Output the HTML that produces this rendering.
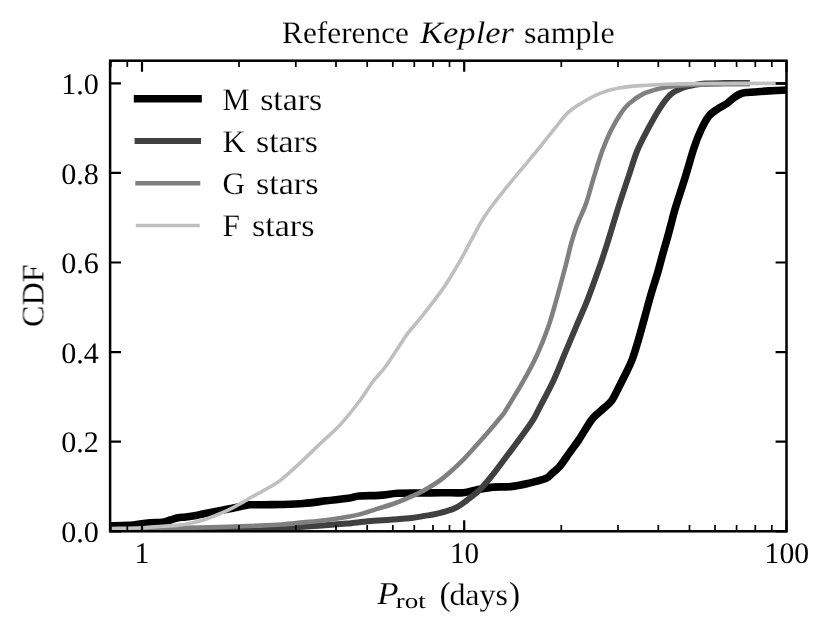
<!DOCTYPE html><html><head><meta charset="utf-8"><style>html,body{margin:0;padding:0;background:#fff}svg{display:block}text{text-rendering:geometricPrecision;font-family:"Liberation Serif",serif;fill:#000}.t text,text.t{stroke:#fff;stroke-width:0.16px}</style></head><body>
<svg width="831" height="633" viewBox="0 0 831 633">
<rect width="100%" height="100%" fill="#fff"/>
<defs><clipPath id="c"><rect x="110.1" y="60.7" width="676.4" height="470.6"/></clipPath></defs>
<g clip-path="url(#c)" fill="none" stroke-linejoin="round" stroke-linecap="butt">
<path d="M108.0,525.8 C111.3,525.7 122.2,525.8 128.1,525.4 C134.0,525.0 139.7,524.0 143.5,523.5 C147.3,523.0 148.0,522.9 151.2,522.7 C154.4,522.5 159.6,522.8 162.8,522.3 C166.0,521.8 167.9,520.8 170.5,520.0 C173.1,519.2 175.6,518.2 178.2,517.7 C180.8,517.2 182.7,517.3 185.9,516.9 C189.1,516.5 194.4,515.7 197.4,515.2 C200.4,514.7 199.0,514.7 204.1,513.7 C209.2,512.7 220.6,510.5 228.1,509.0 C235.6,507.5 247.7,505.0 249.2,504.8 C250.7,504.6 259.6,504.8 265.0,504.7 C270.4,504.6 275.3,504.7 281.7,504.5 C288.1,504.3 295.9,504.1 303.3,503.5 C310.7,502.9 318.8,501.7 326.2,500.8 C333.6,499.9 342.5,499.1 348.0,498.3 C353.5,497.5 354.1,496.5 359.3,496.0 C364.5,495.5 372.7,495.8 379.1,495.4 C385.5,494.9 391.1,493.7 397.7,493.3 C404.3,492.9 411.6,493.1 418.9,493.0 C426.2,492.9 434.3,492.8 441.7,492.7 C449.1,492.6 457.5,493.2 463.3,492.7 C469.1,492.2 471.2,490.8 476.3,489.9 C481.4,489.0 487.8,487.7 493.6,487.1 C499.4,486.6 505.2,487.2 511.0,486.6 C516.8,486.0 522.5,484.7 528.3,483.4 C534.1,482.1 541.6,480.3 545.6,478.6 C549.6,476.9 549.7,475.4 552.0,473.4 C554.3,471.4 556.7,469.9 559.5,466.6 C562.3,463.3 565.8,458.0 568.9,453.6 C572.0,449.2 575.2,445.2 578.4,440.5 C581.6,435.8 585.4,429.1 587.9,425.3 C590.4,421.5 590.7,420.5 593.2,417.8 C595.7,415.1 599.9,411.8 603.0,408.9 C606.1,406.0 609.1,404.1 611.6,400.7 C614.1,397.3 616.1,392.5 618.2,388.4 C620.4,384.3 622.2,380.7 624.5,376.0 C626.8,371.3 629.8,365.7 632.0,360.0 C634.2,354.3 635.8,348.5 637.9,341.6 C640.0,334.7 642.2,326.2 644.4,318.4 C646.5,310.6 648.6,302.5 650.8,295.0 C653.0,287.5 655.3,280.6 657.4,273.6 C659.5,266.6 661.3,259.1 663.1,252.8 C664.9,246.5 666.6,240.7 668.0,235.6 C669.4,230.5 670.4,226.6 671.6,222.0 C672.8,217.4 673.1,215.5 675.4,207.9 C677.7,200.3 682.3,186.6 685.4,176.6 C688.5,166.6 691.3,155.9 693.9,148.1 C696.5,140.2 698.7,134.8 701.2,129.5 C703.7,124.2 706.1,119.6 708.7,116.2 C711.4,112.8 714.1,111.4 717.1,109.3 C720.1,107.2 724.2,105.5 727.0,103.5 C729.8,101.5 731.7,99.2 734.0,97.6 C736.3,95.9 738.9,94.4 740.9,93.6 C742.9,92.8 743.8,92.9 746.0,92.6 C748.2,92.3 750.2,92.3 754.0,92.0 C757.8,91.7 762.9,91.2 768.6,90.9 C774.3,90.6 784.8,90.2 788.0,90.0" stroke="#000" stroke-width="7.6"/>
<path d="M108.0,530.2 C123.3,530.0 174.7,529.6 200.0,529.2 C225.3,528.8 242.8,528.4 260.0,528.0 C277.2,527.6 292.5,527.2 303.3,526.7 C314.1,526.2 317.8,525.7 325.0,525.2 C332.2,524.7 339.4,524.1 346.6,523.5 C353.8,522.9 361.1,521.9 368.3,521.3 C375.5,520.7 382.8,520.3 390.0,519.8 C397.2,519.2 405.8,518.6 411.6,518.0 C417.4,517.4 420.3,516.6 424.6,515.9 C428.9,515.2 432.3,515.0 437.3,513.7 C442.3,512.4 449.6,510.7 454.7,508.3 C459.8,505.9 463.4,502.9 467.7,499.6 C472.0,496.4 476.3,493.1 480.6,488.8 C484.9,484.5 489.3,479.0 493.6,473.6 C497.9,468.2 502.3,462.1 506.6,456.3 C510.9,450.5 515.3,444.9 519.6,439.0 C523.9,433.1 529.5,425.4 532.6,420.6 C535.7,415.8 534.7,417.0 538.3,410.1 C541.9,403.2 549.5,389.0 554.0,379.4 C558.5,369.8 561.5,361.3 565.3,352.3 C569.1,343.3 572.9,334.3 576.7,325.3 C580.5,316.3 584.3,308.0 588.1,298.3 C591.9,288.6 596.4,275.8 599.5,267.0 C602.6,258.2 604.6,251.8 606.6,245.6 C608.6,239.4 609.8,235.3 611.4,230.0 C613.0,224.7 615.0,218.2 616.4,213.6 C617.8,209.0 618.0,208.4 620.0,202.2 C622.0,196.0 625.6,185.1 628.5,176.6 C631.4,168.1 633.8,159.1 637.1,151.0 C640.4,142.9 644.6,135.3 648.4,128.2 C652.2,121.1 656.0,114.0 659.8,108.3 C663.6,102.6 667.4,97.5 671.2,94.1 C675.0,90.7 678.7,89.4 682.5,87.9 C686.3,86.4 690.1,85.7 693.9,85.0 C697.7,84.3 700.1,83.8 705.3,83.5 C710.5,83.2 717.6,83.2 725.0,83.1 C732.4,83.0 745.8,83.0 749.9,83.0" stroke="#404040" stroke-width="6"/>
<path d="M108.0,529.8 C116.7,529.6 141.3,529.1 160.0,528.6 C178.7,528.1 203.3,527.5 220.0,527.0 C236.7,526.5 249.7,526.0 260.0,525.6 C270.3,525.2 274.5,525.0 281.7,524.5 C288.9,524.0 296.1,523.1 303.3,522.4 C310.5,521.7 317.8,521.1 325.0,520.2 C332.2,519.3 340.8,518.0 346.6,517.0 C352.4,516.0 354.5,515.8 359.6,514.4 C364.7,513.0 371.2,510.7 377.0,508.9 C382.8,507.1 388.5,505.6 394.3,503.5 C400.1,501.4 406.6,498.7 411.6,496.4 C416.7,494.1 419.6,492.8 424.6,489.9 C429.6,487.0 435.2,484.2 441.7,479.1 C448.1,474.1 456.1,466.8 463.3,459.6 C470.5,452.4 478.5,443.1 485.0,435.7 C491.5,428.3 498.8,419.5 502.3,415.2 C505.8,410.9 502.4,415.6 505.8,410.1 C509.2,404.6 517.5,391.4 522.7,382.2 C527.9,373.0 532.6,364.4 536.9,355.2 C541.2,345.9 545.0,336.2 548.3,326.7 C551.6,317.2 554.0,308.2 556.8,298.3 C559.6,288.4 562.9,276.0 565.3,267.0 C567.7,258.0 569.3,250.4 571.0,244.2 C572.7,238.0 573.9,234.2 575.3,230.0 C576.7,225.8 577.5,223.9 579.4,219.3 C581.3,214.7 584.1,209.1 586.5,202.2 C588.9,195.3 591.0,186.6 593.6,178.1 C596.2,169.6 599.4,158.8 602.2,151.0 C605.1,143.2 607.8,137.0 610.7,131.1 C613.6,125.2 616.6,119.9 619.6,115.4 C622.6,110.9 624.6,107.6 628.5,104.1 C632.4,100.5 637.5,96.7 642.7,94.1 C647.9,91.5 654.1,89.8 659.8,88.4 C665.5,87.0 671.2,86.2 676.9,85.6 C682.6,85.0 687.5,84.8 693.9,84.6 C700.2,84.4 705.7,84.4 715.0,84.3 C724.3,84.2 744.1,84.2 749.9,84.2" stroke="#808080" stroke-width="4.6"/>
<path d="M770,83.5H788" stroke="#000" stroke-width="2.6"/>
<path d="M108.0,528.6 C111.3,528.5 122.1,528.4 128.0,528.3 C133.9,528.2 137.7,528.1 143.5,527.8 C149.3,527.4 156.4,526.7 162.8,526.2 C169.2,525.7 175.1,525.9 182.0,524.8 C188.9,523.7 196.4,522.2 204.1,519.7 C211.8,517.2 221.7,513.0 228.1,510.1 C234.5,507.2 238.6,504.5 242.6,502.3 C246.6,500.1 248.6,498.8 252.2,496.8 C255.8,494.8 259.6,492.9 264.2,490.2 C268.8,487.5 274.2,485.0 280.0,480.6 C285.8,476.2 292.2,470.1 299.0,463.9 C305.8,457.7 313.8,449.8 320.6,443.3 C327.5,436.8 333.6,431.9 340.1,424.9 C346.6,417.8 354.1,408.2 359.6,401.0 C365.1,393.8 369.0,386.8 373.0,381.5 C377.0,376.2 380.0,373.8 383.7,369.0 C387.4,364.2 391.0,358.5 395.0,352.5 C399.0,346.5 403.5,339.1 407.9,333.2 C412.3,327.3 415.5,324.5 421.3,317.1 C427.1,309.7 436.5,297.9 442.8,288.9 C449.1,279.9 454.1,271.1 458.9,263.0 C463.6,254.9 466.9,248.1 471.3,240.1 C475.7,232.1 479.3,224.2 485.5,215.0 C491.7,205.8 499.8,195.9 508.3,185.2 C516.8,174.5 529.1,160.2 536.7,151.0 C544.3,141.8 548.6,136.1 553.8,129.7 C559.0,123.3 563.3,117.1 568.0,112.6 C572.7,108.1 577.0,105.9 582.2,102.7 C587.4,99.5 593.6,96.0 599.3,93.6 C605.0,91.2 609.6,89.7 616.4,88.4 C623.2,87.1 629.9,86.3 640.0,85.6 C650.1,84.9 666.0,84.3 676.9,84.0 C687.8,83.7 688.8,83.6 705.3,83.5 C721.8,83.4 764.2,83.4 776.0,83.4" stroke="#bfbfbf" stroke-width="3.6"/>
</g>
<g stroke="#000" fill="none">
<path d="M142.0,531.3V520.2M142.0,60.7V71.8" stroke-width="2.2"/>
<path d="M464.2,531.3V520.2M464.2,60.7V71.8" stroke-width="2.2"/>
<path d="M786.5,531.3V520.2M786.5,60.7V71.8" stroke-width="2.2"/>
<path d="M110.8,531.3V525.0M110.8,60.7V67.0" stroke-width="1.7"/>
<path d="M127.3,531.3V525.0M127.3,60.7V67.0" stroke-width="1.7"/>
<path d="M239.0,531.3V525.0M239.0,60.7V67.0" stroke-width="1.7"/>
<path d="M295.8,531.3V525.0M295.8,60.7V67.0" stroke-width="1.7"/>
<path d="M336.0,531.3V525.0M336.0,60.7V67.0" stroke-width="1.7"/>
<path d="M367.2,531.3V525.0M367.2,60.7V67.0" stroke-width="1.7"/>
<path d="M392.8,531.3V525.0M392.8,60.7V67.0" stroke-width="1.7"/>
<path d="M414.3,531.3V525.0M414.3,60.7V67.0" stroke-width="1.7"/>
<path d="M433.0,531.3V525.0M433.0,60.7V67.0" stroke-width="1.7"/>
<path d="M449.5,531.3V525.0M449.5,60.7V67.0" stroke-width="1.7"/>
<path d="M561.3,531.3V525.0M561.3,60.7V67.0" stroke-width="1.7"/>
<path d="M618.0,531.3V525.0M618.0,60.7V67.0" stroke-width="1.7"/>
<path d="M658.3,531.3V525.0M658.3,60.7V67.0" stroke-width="1.7"/>
<path d="M689.5,531.3V525.0M689.5,60.7V67.0" stroke-width="1.7"/>
<path d="M715.0,531.3V525.0M715.0,60.7V67.0" stroke-width="1.7"/>
<path d="M736.6,531.3V525.0M736.6,60.7V67.0" stroke-width="1.7"/>
<path d="M755.3,531.3V525.0M755.3,60.7V67.0" stroke-width="1.7"/>
<path d="M771.8,531.3V525.0M771.8,60.7V67.0" stroke-width="1.7"/>
<path d="M110.1,531.3H121.0M786.5,531.3H775.6" stroke-width="2.2"/>
<path d="M110.1,441.7H121.0M786.5,441.7H775.6" stroke-width="2.2"/>
<path d="M110.1,352.1H121.0M786.5,352.1H775.6" stroke-width="2.2"/>
<path d="M110.1,262.5H121.0M786.5,262.5H775.6" stroke-width="2.2"/>
<path d="M110.1,172.9H121.0M786.5,172.9H775.6" stroke-width="2.2"/>
<path d="M110.1,83.3H121.0M786.5,83.3H775.6" stroke-width="2.2"/>
<rect x="110.1" y="60.7" width="676.4" height="470.6" stroke-width="2.5"/>
</g>
<g style="will-change:transform">
<text x="98.9" y="542.0" font-size="29.8" text-anchor="end" textLength="37.6" lengthAdjust="spacingAndGlyphs">0.0</text>
<text x="98.9" y="452.4" font-size="29.8" text-anchor="end" textLength="37.6" lengthAdjust="spacingAndGlyphs">0.2</text>
<text x="98.9" y="362.8" font-size="29.8" text-anchor="end" textLength="37.6" lengthAdjust="spacingAndGlyphs">0.4</text>
<text x="98.9" y="273.2" font-size="29.8" text-anchor="end" textLength="37.6" lengthAdjust="spacingAndGlyphs">0.6</text>
<text x="98.9" y="183.6" font-size="29.8" text-anchor="end" textLength="37.6" lengthAdjust="spacingAndGlyphs">0.8</text>
<text x="98.9" y="94.0" font-size="29.8" text-anchor="end" textLength="37.6" lengthAdjust="spacingAndGlyphs">1.0</text>
<text x="142" y="563.0" font-size="29.8" text-anchor="middle">1</text>
<text x="464.6" y="563.0" font-size="29.8" text-anchor="middle" textLength="29" lengthAdjust="spacingAndGlyphs">10</text>
<text x="786.8" y="563.0" font-size="29.8" text-anchor="middle" textLength="44.5" lengthAdjust="spacingAndGlyphs">100</text>
<g class="t">
<text x="282" y="42.9" font-size="31.2" textLength="127" lengthAdjust="spacingAndGlyphs">Reference</text>
<text x="420" y="42.9" font-size="31.2" font-style="italic" textLength="94" lengthAdjust="spacingAndGlyphs">Kepler</text>
<text x="524" y="42.9" font-size="31.2" textLength="90.6" lengthAdjust="spacingAndGlyphs">sample</text>
<text transform="translate(43.4,327) rotate(-90)" font-size="31.2" textLength="62.6" lengthAdjust="spacingAndGlyphs">CDF</text>
<text x="377.2" y="604.3" font-size="32" font-style="italic" textLength="21.3" lengthAdjust="spacingAndGlyphs">P</text>
<text x="395.7" y="607.9" font-size="21.5" style="stroke:none" textLength="30" lengthAdjust="spacingAndGlyphs">rot</text>
<text x="439.6" y="604.5" font-size="33.5">(</text>
<text x="449.4" y="604.5" font-size="31" textLength="58.6" lengthAdjust="spacingAndGlyphs">days</text>
<text x="508.9" y="604.5" font-size="33.5">)</text>
<path d="M133.8,98.8H201.8" stroke="#000" stroke-width="7.6" fill="none"/>
<text x="222.4" y="109.6" font-size="31.5" textLength="27.0" lengthAdjust="spacingAndGlyphs">M</text>
<text x="260.2" y="109.6" font-size="31.5" textLength="62.1" lengthAdjust="spacingAndGlyphs">stars</text>
<path d="M134.6,141.1H201.0" stroke="#404040" stroke-width="6.0" fill="none"/>
<text x="222.4" y="151.9" font-size="31.5" textLength="23.2" lengthAdjust="spacingAndGlyphs">K</text>
<text x="256.0" y="151.9" font-size="31.5" textLength="62.0" lengthAdjust="spacingAndGlyphs">stars</text>
<path d="M135.3,183.2H200.3" stroke="#808080" stroke-width="4.6" fill="none"/>
<text x="222.6" y="194.0" font-size="31.5" textLength="22.5" lengthAdjust="spacingAndGlyphs">G</text>
<text x="256.0" y="194.0" font-size="31.5" textLength="62.5" lengthAdjust="spacingAndGlyphs">stars</text>
<path d="M135.8,225.4H199.8" stroke="#bfbfbf" stroke-width="3.5" fill="none"/>
<text x="222.4" y="236.2" font-size="31.5" textLength="17.5" lengthAdjust="spacingAndGlyphs">F</text>
<text x="252.0" y="236.2" font-size="31.5" textLength="62.5" lengthAdjust="spacingAndGlyphs">stars</text>
</g></g>
</svg></body></html>
